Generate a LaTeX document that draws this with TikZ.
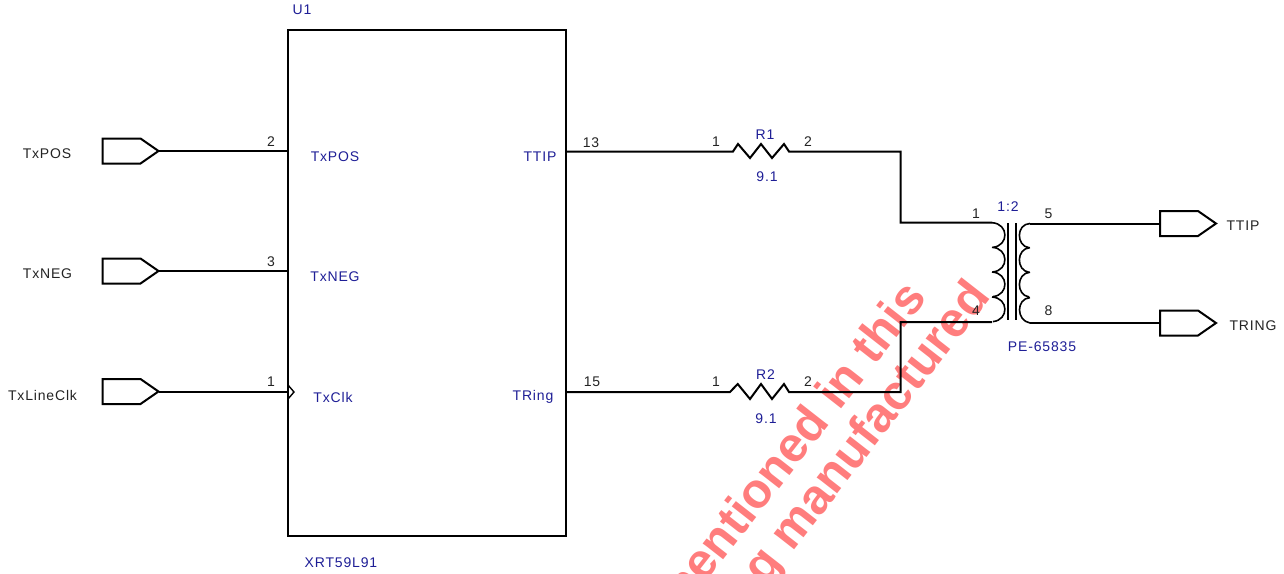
\documentclass[tikz,border=0pt]{standalone}
\usepackage{fontspec}
\setmainfont{Liberation Sans}
\newfontfamily\spacedfont[LetterSpace=6]{Liberation Sans}
\definecolor{refblue}{RGB}{30,30,150}
\definecolor{refgray}{RGB}{35,35,35}
\definecolor{wmred}{RGB}{255,125,125}
\tikzset{
  wire/.style={line width=2pt,line join=miter,black},
  pinlabel/.style={font=\spacedfont\fontsize{14}{14}\selectfont,text=refgray,inner sep=0pt,anchor=center},
  partlabel/.style={font=\spacedfont\fontsize{14}{14}\selectfont,text=refblue,inner sep=0pt,anchor=center},
  watermark/.style={font=\bfseries\fontsize{49}{49}\selectfont,text=wmred,inner sep=0pt,rotate=52}
}
\newcommand{\portat}[3]{%
  \draw[wire] (#2,#3-12.5) -- (#2+38,#3-12.5) -- (#2+56,#3) -- (#2+38,#3+12.5) -- (#2,#3+12.5) -- cycle;
  \coordinate (#1) at (#2+56,#3);
  \coordinate (#1in) at (#2,#3);}
\newcommand{\coilbump}[3]{%
  (#1,#3) .. controls (#2,#3+1) and (#2,#3+23) .. (#1+1,#3+24.6)}
\begin{document}
\begin{tikzpicture}[x=1pt,y=-1pt]
\useasboundingbox (0,0) rectangle (1284,573);
\begin{scope}
\clip (0,0) rectangle (1284,573);
\node[watermark,anchor=base east] (wm1) at (928,298) {mentioned in this};
\node[watermark,anchor=base east] (wm2) at (992,297) {ng manufactured};
\end{scope}

% U1
\node[draw,line width=2pt,minimum width=278pt,minimum height=506pt,inner sep=0pt] (U1) at (427,283) {};
\draw[wire,line width=1.4pt] (288,385) -- (294,392) -- (288,399);

% input ports
\portat{pa}{102.5}{151}
\portat{pb}{102.5}{271}
\portat{pc}{102.5}{391.5}
\draw[wire] (pa) -- (pa -| U1.west);
\draw[wire] (pb) -- (pb -| U1.west);
\draw[wire] (pc) -- (pc -| U1.west);

% resistors
\coordinate (r1a) at (733,151.5);
\coordinate (r1b) at (789,151.5);
\coordinate (r2a) at (730,392);
\coordinate (r2b) at (789,392);
\coordinate (ja) at (900.5,151.5);
\coordinate (jb) at (900.5,222.7);
\coordinate (jc) at (900.5,392);
\coordinate (jd) at (900.5,322);
\coordinate (t1) at (992,222.7);
\coordinate (t4) at (992,322);
\coordinate (t5) at (1030,223.5);
\coordinate (t8) at (1030,323);
\draw[wire] (566,151.5) -- (r1a) -- (738,144) -- (750,158) -- (761,144) -- (772,158) -- (784,144) -- (r1b) -- (ja) -- (jb) -- (t1);
\draw[wire] (566,392) -- (r2a) -- (737.7,384) -- (750,399) -- (761,384) -- (772,399) -- (784,384) -- (r2b) -- (jc) -- (jd) -- (t4);

% transformer
\draw[wire,line width=1.6pt] \coilbump{992}{1009}{222.7} \coilbump{992}{1009}{247.3} \coilbump{992}{1009}{272} \coilbump{992}{1009}{297};
\draw[wire,line width=1.6pt] (1030,223.5) .. controls (1016,224) and (1016,246) .. (1029,247.7)
  (1030,247.6) .. controls (1016,248.6) and (1016,270.6) .. (1029,272.3)
  (1030,272.2) .. controls (1016,273.2) and (1016,295.2) .. (1029,296.9)
  (1030,297.6) .. controls (1016,298.6) and (1016,320.6) .. (1030,323);
\draw[wire] (1007.7,223) -- (1007.7,320);
\draw[wire] (1015.7,223) -- (1015.7,320);

% output ports
\portat{po}{1160}{223.5}
\portat{pp}{1160}{323}
\draw[wire] (t5) -- (poin);
\draw[wire] (t8) -- (ppin);

% texts
\node[pinlabel] (la) at (47,154) {TxPOS};
\node[pinlabel] (lb) at (47.5,274) {TxNEG};
\node[pinlabel] (lc) at (42.5,395) {TxLineClk};
\node[pinlabel] (ld) at (1243,226) {TTIP};
\node[pinlabel] (le) at (1253,326) {TRING};
\node[pinlabel] (n2) at (271,142) {2};
\node[pinlabel] (n3) at (271,262) {3};
\node[pinlabel] (n1) at (271,382) {1};
\node[pinlabel] (n13) at (591,143) {13};
\node[pinlabel] (n15) at (592,382) {15};
\node[pinlabel] (r1p1) at (716,142) {1};
\node[pinlabel] (r1p2) at (808,142) {2};
\node[pinlabel] (r2p1) at (716,382) {1};
\node[pinlabel] (r2p2) at (808,382) {2};
\node[pinlabel] (tp1) at (976,214) {1};
\node[pinlabel] (tp4) at (976,311) {4};
\node[pinlabel] (tp5) at (1048.5,214) {5};
\node[pinlabel] (tp8) at (1048.5,311) {8};
\node[partlabel] (u1) at (302,10) {U1};
\node[partlabel] (pn) at (341,563) {XRT59L91};
\node[partlabel] (ia) at (335,157) {TxPOS};
\node[partlabel] (ib) at (335,277) {TxNEG};
\node[partlabel] (ic) at (333,397) {TxClk};
\node[partlabel] (oa) at (540,157) {TTIP};
\node[partlabel] (ob) at (533,397) {TRing};
\node[partlabel] (r1n) at (765,135) {R1};
\node[partlabel] (r1v) at (767,177) {9.1};
\node[partlabel] (r2n) at (765.5,375) {R2};
\node[partlabel] (r2v) at (766,419) {9.1};
\node[partlabel] (tr) at (1008,207) {1:2};
\node[partlabel] (tn) at (1042,347) {PE-65835};
\end{tikzpicture}
\end{document}
